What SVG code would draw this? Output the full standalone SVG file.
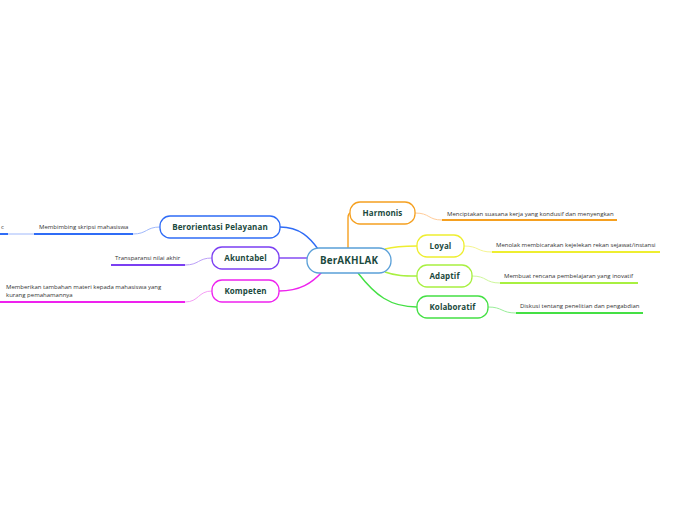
<svg xmlns="http://www.w3.org/2000/svg" width="696" height="520" viewBox="0 0 696 520">
<style>
.node{fill:#fff;stroke-width:1.3}
.lbl{font-family:"Open Sans","Noto Sans",sans-serif;font-weight:bold;font-size:8px;fill:#1b4a3e;text-anchor:middle;letter-spacing:0.1px}
.leaf{font-family:"Open Sans","Noto Sans",sans-serif;font-size:6px;fill:#333}
.main{fill:none;stroke-width:1.4}
.sub{fill:none;stroke-width:1}
.ul{fill:none;stroke-width:2}
</style>
<rect width="696" height="520" fill="#fff"/>
<g id="connectors">
  <path class="main" stroke="#f5a020" d="M348,249 L348,218 Q348,213 351,213"/>
  <path class="main" stroke="#eeee30" d="M385,249 C396,246 405,246 417,246"/>
  <path class="main" stroke="#a8f040" d="M385,272 C396,276 405,276 417,276"/>
  <path class="main" stroke="#44e044" d="M358,273 C375,295 390,307 417,307"/>
  <path class="main" stroke="#2f6cf6" d="M280,227 C300,227 310,238 318,249"/>
  <path class="main" stroke="#7b3ff2" d="M279,258 L307,258"/>
  <path class="main" stroke="#ee22ee" d="M279,291 C300,291 312,283 322,272"/>
  <path class="sub" stroke="#ffcc99" d="M415,213 C430,213 428,220 442,220"/>
  <path class="sub" stroke="#f5f590" d="M464,246 C479,246 477,252 492,252"/>
  <path class="sub" stroke="#cdf79a" d="M472,276 C487,276 485,283 500,283"/>
  <path class="sub" stroke="#99ee99" d="M488,307 C503,307 501,313 516,313"/>
  <path class="sub" stroke="#9fb8fb" d="M160,227 C146,227 147,234 133,234"/>
  <path class="sub" stroke="#9fb8fb" d="M34,234 L8,234"/>
  <path class="sub" stroke="#bb9ff8" d="M212,258 C198,258 199,265 185,265"/>
  <path class="sub" stroke="#f59ff5" d="M212,291 C198,291 199,302 185,302"/>
</g>
<g id="center">
  <rect class="node" x="307" y="248" width="84" height="25" rx="12" stroke="#5aa0d8"/>
  <text class="lbl" x="349" y="264" style="font-size:9.8px;letter-spacing:0.2px">BerAKHLAK</text>
</g>
<g id="harmonis">
  <rect class="node" x="350" y="202" width="65" height="22" rx="10" stroke="#f5a020"/>
  <text class="lbl" x="382.5" y="215.8">Harmonis</text>
</g>
<g id="loyal">
  <rect class="node" x="417" y="235" width="47" height="22" rx="10" stroke="#eeee30"/>
  <text class="lbl" x="440.5" y="248.8">Loyal</text>
</g>
<g id="adaptif">
  <rect class="node" x="417" y="265" width="55" height="22" rx="10" stroke="#a8f040"/>
  <text class="lbl" x="444.5" y="278.8">Adaptif</text>
</g>
<g id="kolaboratif">
  <rect class="node" x="417" y="296" width="71" height="22" rx="10" stroke="#44e044"/>
  <text class="lbl" x="452.5" y="309.8">Kolaboratif</text>
</g>
<g id="berorientasi">
  <rect class="node" x="160" y="216" width="120" height="22" rx="10" stroke="#2f6cf6"/>
  <text class="lbl" x="220" y="229.8">Berorientasi Pelayanan</text>
</g>
<g id="akuntabel">
  <rect class="node" x="212" y="247" width="67" height="22" rx="10" stroke="#7b3ff2"/>
  <text class="lbl" x="245.5" y="260.8">Akuntabel</text>
</g>
<g id="kompeten">
  <rect class="node" x="212" y="280" width="67" height="22" rx="10" stroke="#ee22ee"/>
  <text class="lbl" x="245.5" y="293.8">Kompeten</text>
</g>
<g id="leaf-harmonis">
  <text class="leaf" x="447" y="216">Menciptakan suasana kerja yang kondusif dan menyengkan</text>
  <path class="ul" stroke="#f5a020" d="M442,220 L617,220"/>
</g>
<g id="leaf-loyal">
  <text class="leaf" x="496" y="247">Menolak membicarakan kejelekan rekan sejawat/instansi</text>
  <path class="ul" stroke="#eeee30" d="M492,252 L660,252"/>
</g>
<g id="leaf-adaptif">
  <text class="leaf" x="504" y="278">Membuat rencana pembelajaran yang inovatif</text>
  <path class="ul" stroke="#a8f040" d="M500,283 L638,283"/>
</g>
<g id="leaf-kolaboratif">
  <text class="leaf" x="520" y="308">Diskusi tentang penelitian dan pengabdian</text>
  <path class="ul" stroke="#44e044" d="M516,313 L643,313"/>
</g>
<g id="leaf-berorientasi">
  <text class="leaf" x="39" y="229">Membimbing skripsi mahasiswa</text>
  <path class="ul" stroke="#2f6cf6" d="M34,234 L133,234"/>
</g>
<g id="leaf-berorientasi-2">
  <text class="leaf" x="1" y="229">c</text>
  <path class="ul" stroke="#2f6cf6" d="M0,234 L8,234"/>
</g>
<g id="leaf-akuntabel">
  <text class="leaf" x="115" y="260">Transparansi nilai akhir</text>
  <path class="ul" stroke="#7b3ff2" d="M111,265 L185,265"/>
</g>
<g id="leaf-kompeten">
  <text class="leaf" x="6" y="289">Memberikan tambahan materi kepada mahasiswa yang</text>
  <text class="leaf" x="6" y="297">kurang pemahamannya</text>
  <path class="ul" stroke="#ee22ee" d="M0,302 L185,302"/>
</g>
</svg>
